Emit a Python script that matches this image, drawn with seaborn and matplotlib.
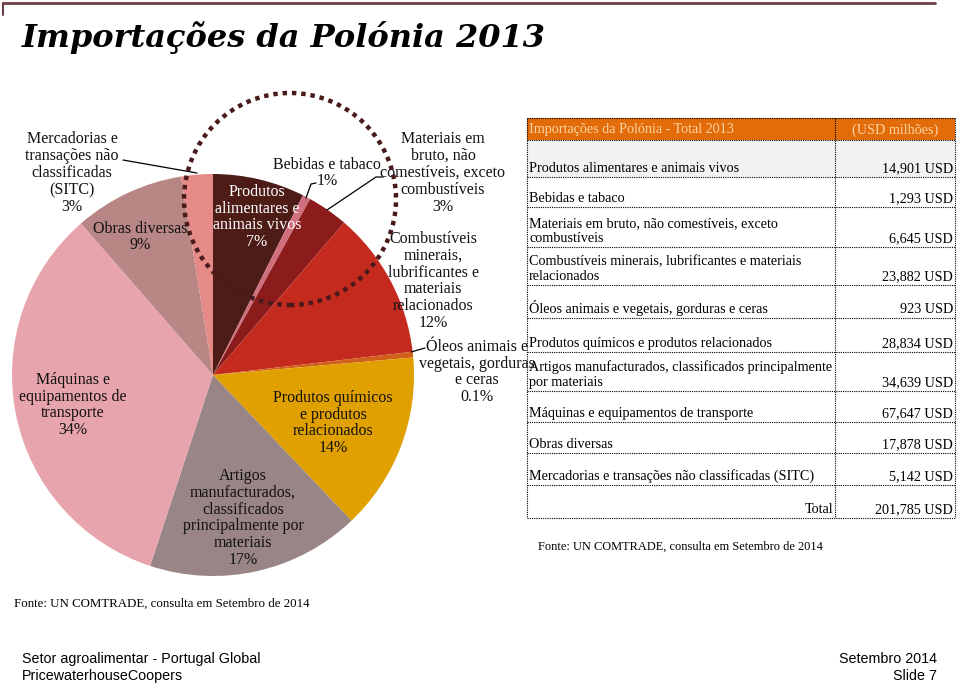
import matplotlib
matplotlib.use("Agg")
import matplotlib.pyplot as plt
import seaborn as sns
from matplotlib.patches import Circle, Rectangle

# Dados: importações da Polónia 2013 (USD milhões)
categorias = [
    "Produtos alimentares e animais vivos",
    "Bebidas e tabaco",
    "Materiais em bruto, não comestíveis, exceto\ncombustíveis",
    "Combustíveis minerais, lubrificantes e materiais\nrelacionados",
    "Óleos animais e vegetais, gorduras e ceras",
    "Produtos químicos e produtos relacionados",
    "Artigos manufacturados, classificados principalmente\npor materiais",
    "Máquinas e equipamentos de transporte",
    "Obras diversas",
    "Mercadorias e transações não classificadas (SITC)",
]
valores = [14901, 1293, 6645, 23882, 923, 28834, 34639, 67647, 17878, 5142]
total = 201785
rotulos_pie = [
    "Produtos\nalimentares e\nanimais vivos\n7%",
    "Bebidas e tabaco\n1%",
    "Materiais em\nbruto, não\ncomestíveis, exceto\ncombustíveis\n3%",
    "Combustíveis\nminerais,\nlubrificantes e\nmateriais\nrelacionados\n12%",
    "Óleos animais e\nvegetais, gorduras\ne ceras\n0.1%",
    "Produtos químicos\ne produtos\nrelacionados\n14%",
    "Artigos\nmanufacturados,\nclassificados\nprincipalmente por\nmateriais\n17%",
    "Máquinas e\nequipamentos de\ntransporte\n34%",
    "Obras diversas\n9%",
    "Mercadorias e\ntransações não\nclassificadas\n(SITC)\n3%",
]
cores = ["#4d1c17", "#d0707f", "#8c1c1c", "#c52a1f", "#d0601a",
         "#e0a100", "#9a8586", "#e8a4ad", "#b98686", "#e68a87"]

sns.set_theme(style="white")
plt.rcParams["font.family"] = ["Liberation Serif", "DejaVu Serif"]
plt.rcParams["text.color"] = "black"
paleta = sns.color_palette(cores)

W, H = 960, 684
fig = plt.figure(figsize=(9.6, 6.84), dpi=100)
ax = fig.add_axes([0, 0, 1, 1])

def Y(y):
    return H - y

SERIF = ["Liberation Serif", "DejaVu Serif"]
SANS = ["Liberation Sans"]

# pizza
ax.pie(valores, colors=paleta, startangle=90, counterclock=False,
       center=(213, Y(375)), radius=201, wedgeprops=dict(linewidth=0))

# posições dos rótulos (px)
pos_rotulos = [(257, 217), (327, 173), (443, 173), (433, 281), (477, 372),
               (333, 423), (243, 518), (73, 405), (140, 237), (72, 173)]
for i, (txt, (x, y)) in enumerate(zip(rotulos_pie, pos_rotulos)):
    ax.text(x, Y(y), txt, ha="center", va="center", fontsize=11.5,
            family=SERIF, color="white" if i == 0 else "#111111",
            linespacing=1.08, zorder=5)

# linhas de chamada
chamadas = [
    [(123, 160), (197, 173)],
    [(316, 183), (311, 184), (306, 198)],
    [(383, 177), (376, 177), (327, 210)],
    [(425, 348), (411, 352)],
]
for pts in chamadas:
    xs = [p[0] for p in pts]
    ys = [Y(p[1]) for p in pts]
    ax.plot(xs, ys, color="black", lw=0.9, zorder=4)

# círculo pontilhado
ax.add_patch(Circle((290, Y(199)), 106, fill=False, edgecolor="#4a1a1a",
                    lw=3.2, linestyle=(0, (1, 1.1)), zorder=6))

# título
ax.plot([3, 935], [Y(3), Y(3)], color="#6b3f45", lw=2)
ax.plot([3, 3], [Y(3), Y(15)], color="#6b3f45", lw=1.5)
ax.text(22, Y(37), "Importações da Polónia 2013", fontsize=23,
        family="DejaVu Serif", weight="bold", style="italic",
        va="center", ha="left")

# tabela
xl, xm, xr = 527, 835, 955
ax.add_patch(Rectangle((xl, Y(140)), xr - xl, 22, color="#e36c0a", lw=0))
ax.add_patch(Rectangle((xl, Y(177)), xr - xl, 37, color="#f2f2f2", lw=0))
bordas = [118, 140, 177, 207, 247, 285, 318, 352, 391, 422, 453, 485, 518]
for b in bordas:
    ax.plot([xl, xr], [Y(b), Y(b)], color="black", lw=0.8, ls=(0, (1, 1)))
for x in (xl, xm, xr):
    ax.plot([x, x], [Y(118), Y(518)], color="black", lw=0.8, ls=(0, (1, 1)))

FT = 10.2
ax.text(529, Y(130), "Importações da Polónia - Total 2013", fontsize=FT,
        family=SERIF, color="#fcd3a0", va="center")
ax.text((xm + xr) / 2, Y(130), "(USD milhões)", fontsize=FT,
        family=SERIF, color="#fcd3a0", va="center", ha="center")

for i, (cat, v) in enumerate(zip(categorias, valores)):
    base = bordas[i + 2]
    ax.text(529, Y(base - 2), cat, fontsize=FT, family=SERIF, va="bottom",
            ha="left", linespacing=1.2)
    ax.text(953, Y(base - 2), f"{v:,} USD", fontsize=FT, family=SERIF,
            va="bottom", ha="right")
ax.text(833, Y(516), "Total", fontsize=FT, family=SERIF, va="bottom", ha="right")
ax.text(953, Y(516), f"{total:,} USD", fontsize=FT, family=SERIF,
        va="bottom", ha="right")

ax.text(538, Y(547), "Fonte: UN COMTRADE, consulta em Setembro de 2014",
        fontsize=8.9, family=SERIF, va="center")
ax.text(14, Y(604), "Fonte: UN COMTRADE, consulta em Setembro de 2014",
        fontsize=9.3, family=SERIF, va="center")

# rodapé
for txt, y in (("Setor agroalimentar - Portugal Global", 659),
               ("PricewaterhouseCoopers", 676)):
    ax.text(22, Y(y), txt, fontsize=10.3, family=SANS, va="center")
for txt, y in (("Setembro 2014", 659), ("Slide 7", 676)):
    ax.text(937, Y(y), txt, fontsize=10.3, family=SANS, va="center",
            ha="right")

ax.set_xlim(0, W)
ax.set_ylim(0, H)
ax.set_aspect("equal")
ax.axis("off")

fig.savefig("out.png", dpi=100)
